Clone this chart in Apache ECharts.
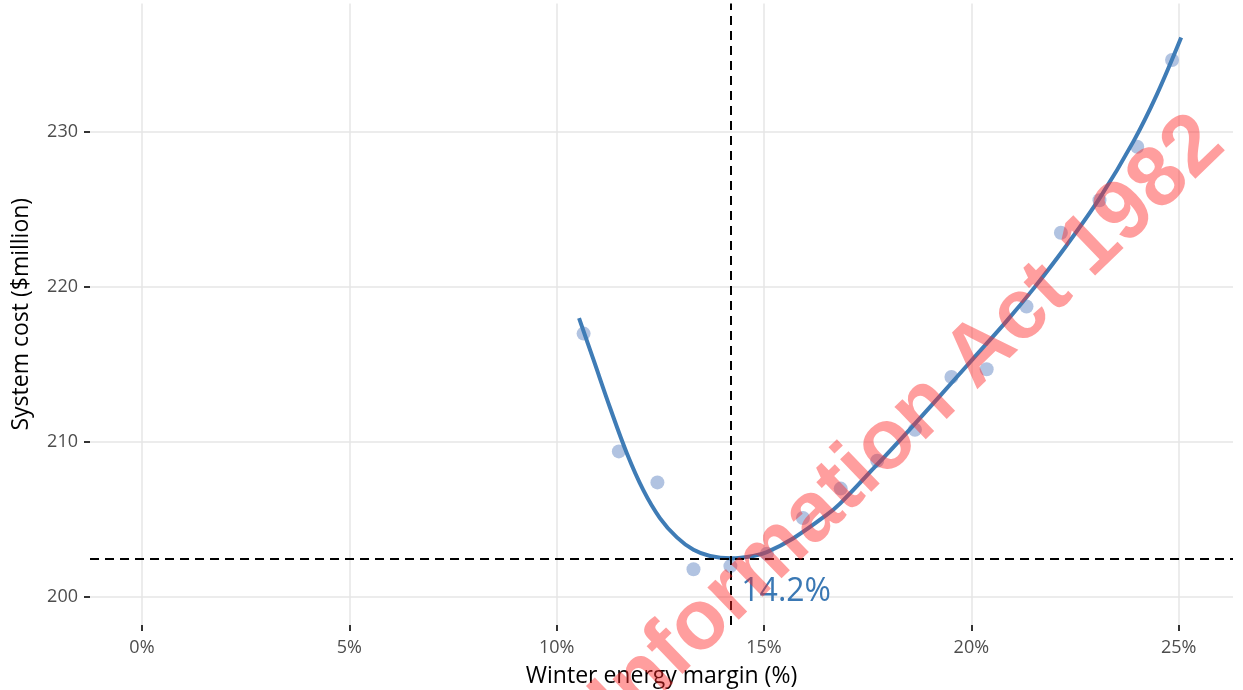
<!DOCTYPE html>
<html>
<head>
	<meta charset="utf-8">
	<title>Winter energy margin vs system cost</title>
	<style>
		html, body { margin: 0; padding: 0; background: #fff; }
		#chart { width: 1243px; height: 690px; }
	</style>
</head>
<body>
	<div id="chart"></div>
<script src="https://cdn.jsdelivr.net/npm/echarts@6/dist/echarts.min.js"></script>
<script>
	// scatter points: winter energy margin (%) and system cost ($million)
	var marginPts = [10.65, 11.50, 12.43, 13.30, 14.19, 15.07, 15.94, 16.85, 17.73, 18.64, 19.52, 20.37, 21.33, 22.16, 23.09, 24.00, 24.84];
	var costPts   = [217.0, 209.4, 207.4, 201.8, 202.0, 202.8, 205.1, 207.0, 208.8, 210.8, 214.2, 214.7, 218.75, 223.5, 225.6, 229.05, 234.65];

	// fitted curve
	var fitMargin = [10.54, 10.89, 11.29, 11.69, 12.09, 12.49, 12.90, 13.30, 13.70, 14.20, 14.74, 15.07, 15.71, 16.51, 16.84, 17.64, 18.44, 19.25, 20.05, 20.85, 21.50, 22.30, 23.11, 23.91, 24.47, 25.06];
	var fitCost   = [218.0, 215.3, 212.2, 209.3, 206.9, 205.1, 203.85, 203.05, 202.65, 202.5, 202.65, 202.9, 203.8, 205.3, 206.05, 208.3, 210.6, 213.0, 215.4, 217.8, 219.9, 222.7, 225.8, 229.4, 232.4, 236.1];

	// optimum
	var optMargin = 14.2;
	var optCost = 202.5;

	// tick labels
	var xTicks = [0, 5, 10, 15, 20, 25];
	var yTicks = [200, 210, 220, 230];

	function pairs(a, b) {
		var out = [];
		for (var i = 0; i < a.length; i++) {
			out.push([a[i], b[i]]);
		}
		return out;
	}

	var font = '"Open Sans", "DejaVu Sans", sans-serif';
	var chart = echarts.init(document.getElementById('chart'));

	var option = {
		animation: false,
		backgroundColor: '#fff',
		grid: { left: 90, right: 10, top: 3.4, bottom: 65, containLabel: false, outerBoundsMode: 'none' },
		xAxis: {
			type: 'value',
			min: -1.253,
			max: 26.31,
			name: 'Winter energy margin (%)',
			nameLocation: 'middle',
			nameGap: 40,
			nameTextStyle: { color: '#000', fontSize: 23, fontFamily: font },
			axisLine: { show: false, onZero: false },
			axisTick: { show: true, length: 6, customValues: xTicks, lineStyle: { color: '#333', width: 2 } },
			axisLabel: {
				customValues: xTicks,
				margin: 14,
				color: '#4d4d4d',
				fontSize: 18,
				fontFamily: font,
				formatter: function (v) { return v + '%'; }
			},
			splitLine: { show: true, lineStyle: { color: '#e6e6e6', width: 1.5 } }
		},
		yAxis: {
			type: 'value',
			min: 198.2,
			max: 238.3,
			name: 'System cost ($million)',
			nameLocation: 'middle',
			nameGap: 57,
			nameTextStyle: { color: '#000', fontSize: 23, fontFamily: font },
			axisLine: { show: false, onZero: false },
			axisTick: { show: true, length: 6, customValues: yTicks, lineStyle: { color: '#333', width: 2 } },
			axisLabel: {
				customValues: yTicks,
				margin: 12,
				color: '#4d4d4d',
				fontSize: 18,
				fontFamily: font
			},
			splitLine: { show: true, lineStyle: { color: '#e6e6e6', width: 1.5 } }
		},
		series: [
			{
				name: 'runs',
				type: 'scatter',
				data: pairs(marginPts, costPts),
				symbolSize: 14,
				itemStyle: { color: '#a3b9dc', opacity: 0.85 },
				z: 2
			},
			{
				name: 'fit',
				type: 'line',
				data: pairs(fitMargin, fitCost),
				smooth: 0.35,
				showSymbol: false,
				lineStyle: { color: '#3f7cb6', width: 4 },
				z: 3,
				markLine: {
					silent: true,
					symbol: 'none',
					label: { show: false },
					lineStyle: { color: '#000', width: 2, type: [9, 6] },
					data: [{ xAxis: optMargin }, { yAxis: optCost }]
				}
			},
			{
				name: 'optimum',
				type: 'scatter',
				data: [[optMargin, optCost]],
				symbolSize: 1,
				itemStyle: { color: 'rgba(0,0,0,0)' },
				label: {
					show: true,
					position: 'right',
					distance: 10,
					offset: [0, 34],
					formatter: optMargin + '%',
					color: '#3a78b4',
					opacity: 1,
					fontSize: 32,
					fontFamily: font
				},
				z: 4
			}
		],
		graphic: [{
			type: 'text',
			x: 1211,
			y: 131,
			rotation: 44 * Math.PI / 180,
			z: 100,
			silent: true,
			style: {
				text: 'Information Act 1982',
				font: 'bold 85px "Liberation Sans", Arial, sans-serif',
				fill: 'rgba(255, 40, 40, 0.45)',
				textAlign: 'right',
				textVerticalAlign: 'middle'
			}
		}]
	};

	chart.setOption(option);
</script>
</body>
</html>
